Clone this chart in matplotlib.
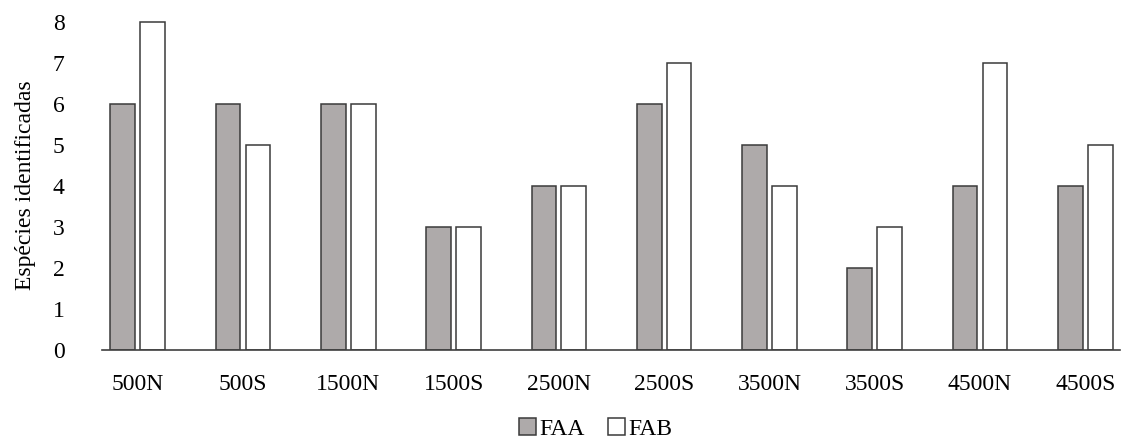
import numpy as np
import matplotlib.pyplot as plt

plt.rcParams["font.family"] = ["Liberation Serif", "DejaVu Serif"]

sites = ["500N", "500S", "1500N", "1500S", "2500N", "2500S",
         "3500N", "3500S", "4500N", "4500S"]
faa = [6, 6, 6, 3, 4, 6, 5, 2, 4, 4]
fab = [8, 5, 6, 3, 4, 7, 4, 3, 7, 5]
y_ticks = [0, 1, 2, 3, 4, 5, 6, 7, 8]

fig = plt.figure(figsize=(11.23, 4.41), dpi=100)
ax = fig.add_axes([102 / 1123, 1 - 350 / 441, (1120 - 102) / 1123, (350 - 21) / 441])

x = np.arange(len(sites))
width = 0.235
edge = "#3a3a3a"
ax.bar(x - 0.142, faa, width, color="#aeaaaa", edgecolor=edge, linewidth=1.1, label="FAA")
ax.bar(x + 0.142, fab, width, color="white", edgecolor=edge, linewidth=1.1, label="FAB")

ax.set_xlim(-0.34, 9.33)
ax.set_ylim(0, 8.03)
ax.set_yticks(y_ticks)
ax.set_xticks(x)
ax.set_xticklabels(sites)
ax.tick_params(axis="both", length=0, labelsize=17)
ax.tick_params(axis="y", pad=27)
ax.tick_params(axis="x", pad=17)

for side in ["top", "right", "left"]:
    ax.spines[side].set_visible(False)
ax.spines["bottom"].set_color("#404040")
ax.spines["bottom"].set_linewidth(1.2)

ax.set_ylabel("Espécies identificadas", fontsize=17, labelpad=12)

ax.legend(loc="upper center", bbox_to_anchor=(0.485, -0.165), ncol=2, frameon=False,
          fontsize=17, handlelength=0.7, handleheight=0.7, handletextpad=0.15,
          columnspacing=1.0, borderpad=0.1)

fig.savefig("out.png", dpi=100)
